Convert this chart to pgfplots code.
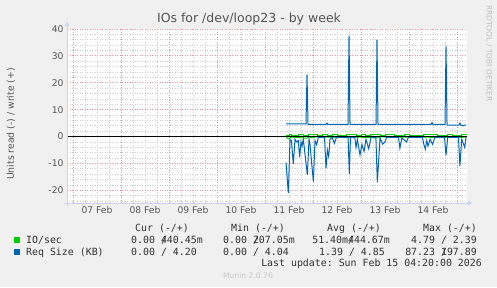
\documentclass[border=0pt]{standalone}
\usepackage{pgfplots}
\pgfplotsset{compat=1.18}
\usepackage{fontspec}
\setmainfont{DejaVu Sans}
\setmonofont{DejaVu Sans Mono}
\usetikzlibrary{arrows.meta}
\definecolor{bgc}{RGB}{240,240,240}
\definecolor{majgrid}{RGB}{230,150,150}
\definecolor{mingrid}{RGB}{205,205,205}
\definecolor{axcol}{RGB}{200,210,245}
\definecolor{tickc}{RGB}{85,85,85}
\definecolor{legc}{RGB}{51,51,51}
\definecolor{munblue}{RGB}{0,102,179}
\definecolor{mungreen}{RGB}{0,204,0}
\begin{document}
\begin{tikzpicture}[x=1bp,y=1bp]
\fill[bgc] (0,0) rectangle (497,287);
\path[use as bounding box] (0,0) rectangle (497,287);
\fill[white] (67,84) rectangle (467,258);
\begin{axis}[
  at={(67bp,84bp)}, anchor=south west,
  scale only axis, width=400bp, height=174bp,
  xmin=-0.125, xmax=8.208, ymin=-24.7, ymax=40,
  axis line style={draw=none},
  tick style={draw=none},
  xtick={0.5,1.5,2.5,3.5,4.5,5.5,6.5,7.5},
  xticklabels={07 Feb,08 Feb,09 Feb,10 Feb,11 Feb,12 Feb,13 Feb,14 Feb},
  minor xtick={0.25,0.5,0.75,1.25,1.5,1.75,2.25,2.5,2.75,3.25,3.5,3.75,4.25,4.5,4.75,5.25,5.5,5.75,6.25,6.5,6.75,7.25,7.5,7.75},
  extra x ticks={0,1,2,3,4,5,6,7,8},
  extra x tick labels={},
  extra x tick style={grid=major},
  xmajorgrids=false, xminorgrids=true,
  ytick={-20,-10,0,10,20,30,40},
  minor ytick={-24,-22,-18,-16,-14,-12,-8,-6,-4,-2,2,4,6,8,12,14,16,18,22,24,26,28,32,34,36,38},
  ymajorgrids=true, yminorgrids=true,
  major grid style={majgrid, line width=0.8bp, dash pattern=on 1bp off 1.5bp},
  minor grid style={mingrid, line width=0.8bp, dash pattern=on 1bp off 1.5bp},
  ticklabel style={font=\fontsize{9.2bp}{11bp}\selectfont, text=tickc},
  /pgf/number format/assume math mode=true,
  clip=false,
]
% IO/sec (write +, read -)
\addplot[mungreen, line width=1bp, const plot] coordinates {
(4.44,0.4)(4.5,0.7)(4.56,0.5)(4.62,0.5)(4.7,0.8)(4.76,0.8)(4.8,0.4)(4.9,0.8)(4.96,0.8)(5.0,0.6)(5.1,0.4)(5.2,0.8)(5.26,0.8)(5.3,0.5)(5.4,0.7)(5.5,0.4)(5.6,0.4)(5.7,0.6)(5.8,0.8)(5.86,0.8)(5.9,0.5)(6.0,0.8)(6.1,0.4)(6.2,0.6)(6.3,0.8)(6.36,0.8)(6.4,0.4)(6.5,0.6)(6.6,0.8)(6.7,0.4)(6.8,0.4)(6.9,0.7)(7.0,0.4)(7.1,0.5)(7.2,0.4)(7.3,0.8)(7.4,0.8)(7.5,0.7)(7.6,0.4)(7.7,0.5)(7.8,0.8)(7.9,0.4)(8.0,0.4)(8.1,0.8)(8.19,0.4)
};
\addplot[mungreen, line width=1bp] coordinates {
(4.44,-0.3)(4.49,-0.8)(4.55,-0.2)(4.88,-0.6)(4.92,-0.1)(5.0,-0.5)(5.05,-0.1)(5.76,-0.4)(5.8,-0.1)(6.34,-0.5)(6.4,-0.1)(7.77,-0.3)(7.8,-0.1)(8.06,-0.4)(8.19,-0.1)
};
% Req Size (KB) write (+)
\addplot[munblue, line width=1bp] coordinates {
(4.4375,4.7)(4.854,4.7)(4.875,23)(4.896,4.5)(5.27,4.5)(5.29,5.0)(5.31,4.5)(5.729,4.5)(5.75,37.5)(5.771,4.5)(6.3125,4.5)(6.333,36)(6.354,4.5)(7.46,4.5)(7.48,5.2)(7.5,4.5)(7.75,4.5)(7.771,33.5)(7.792,4.3)(8.04,4.3)(8.06,5.0)(8.08,4.3)(8.12,4.0)(8.16,4.3)(8.19,4.2)
};
% Req Size (KB) read (-)
\addplot[munblue, line width=1bp] coordinates {
(4.4375,-9.7)(4.486,-21)(4.521,-1)(4.549,-1.5)(4.59,-10.2)(4.625,-1)(4.66,-2)(4.694,-1.5)(4.722,-7.7)(4.75,-2)(4.771,-3.5)(4.798,-1)(4.882,-14.2)(4.917,-1)(4.938,-3)(4.972,-9.9)(5.007,-16.7)(5.042,-1.5)(5.076,-3)(5.11,-0.3)(5.24,-0.3)(5.271,-11.8)(5.299,-5)(5.326,-7.4)(5.354,-1)(5.4,-0.3)(5.444,-2.5)(5.49,-0.3)(5.73,-0.3)(5.757,-14)(5.78,-0.3)(5.87,-0.3)(5.896,-4)(5.924,-1)(5.979,-6.8)(6.02,-3)(6.063,-5.5)(6.104,-1)(6.16,-4.5)(6.21,-0.3)(6.31,-0.3)(6.34,-17)(6.396,-0.5)(6.45,-2.8)(6.5,-2)(6.53,-0.3)(6.78,-0.3)(6.81,-4.3)(6.85,-0.5)(6.95,-2)(6.985,-0.3)(7.28,-0.3)(7.31,-3)(7.34,-4.7)(7.37,-1.5)(7.396,-3.5)(7.44,-1)(7.49,-2.9)(7.54,-0.3)(7.74,-0.3)(7.77,-7)(7.806,-0.3)(8.03,-0.3)(8.06,-11)(8.098,-1)(8.16,-4)(8.19,0)
};
\addplot[black, line width=1bp] coordinates {(-0.125,0)(8.208,0)};
\end{axis}
% axes
\draw[axcol, line width=1bp, -{Latex[length=5bp,width=5bp]}] (64,84) -- (473,84);
\draw[axcol, line width=1bp, -{Latex[length=5bp,width=5bp]}] (67,81) -- (67,266);
% title etc.
\node[text=tickc, font=\fontsize{12.5bp}{15bp}\selectfont] at (249,268) {IOs for /dev/loop23 - by week};
\node[text=tickc, rotate=90, font=\fontsize{9.3bp}{11bp}\selectfont] at (11,163) {Units read (-) / write (+)};
\node[text={rgb,255:red,192;green,192;blue,192}, rotate=-90, font=\fontsize{7.5bp}{9bp}\selectfont] at (489,233.5) {RRDTOOL / TOBI OETIKER};
% legend
\begin{scope}[every node/.style={text=legc, inner sep=0pt, font=\ttfamily\fontsize{9.9bp}{12bp}\selectfont}]
\node[anchor=base west] at (135,56) {Cur (-/+)};
\node[anchor=base west] at (231,56) {Min (-/+)};
\node[anchor=base west] at (327,56) {Avg (-/+)};
\node[anchor=base east] at (477,56) {Max (-/+)};
\fill[mungreen] (14,44.3) rectangle (19.5,49.8);
\fill[munblue] (14,32.3) rectangle (19.5,37.8);
\node[anchor=base west] at (26,43.5) {IO/sec};
\node[anchor=base west] at (131,43.5) {0.00 \rlap{/}440.45m};
\node[anchor=base west] at (223,43.5) {0.00 \rlap{/}207.05m};
\node[anchor=base east] at (390,43.5) {51.40m\rlap{/}444.67m};
\node[anchor=base east] at (477,43.5) {4.79 / 2.39};
\node[anchor=base west] at (26,31.5) {Req Size (KB)};
\node[anchor=base west] at (131,31.5) {0.00 / 4.20};
\node[anchor=base west] at (223,31.5) {0.00 / 4.04};
\node[anchor=base east] at (385,31.5) {1.39 / 4.85};
\node[anchor=base east] at (477,31.5) {87.23 \rlap{/}197.89};
\node[anchor=base east] at (482,20.5) {Last update: Sun Feb 15 04:20:00 2026};
\end{scope}
\node[text={rgb,255:red,200;green,200;blue,200}, font=\fontsize{7.6bp}{9bp}\selectfont] at (248,11) {Munin 2.0.76};
\end{tikzpicture}
\end{document}
